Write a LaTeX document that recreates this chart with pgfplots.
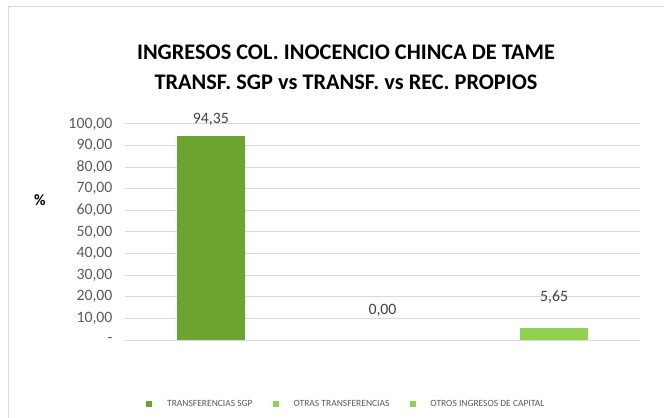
\documentclass[border=0pt]{standalone}
\usepackage{fontspec}
\setmainfont{Carlito}
\usepackage{pgfplots}
\pgfplotsset{compat=1.18}
\definecolor{sgpgreen}{HTML}{6BA42F}
\definecolor{lightgreen}{HTML}{92D050}
\definecolor{gridgray}{HTML}{D9D9D9}
\definecolor{ticktext}{HTML}{595959}
\definecolor{labeltext}{HTML}{404040}
\newcommand{\tickfont}{\fontsize{15.8bp}{18bp}\selectfont}
\begin{document}
\begin{tikzpicture}
\useasboundingbox (0,0) rectangle (664bp,418bp);
\draw[gridgray,line width=1bp] (8.5bp,0) -- (8.5bp,411.5bp) -- (664bp,411.5bp);
\node[anchor=base,font=\bfseries\fontsize{22.3bp}{26bp}\selectfont,text=black]
 at (346bp,358bp) {INGRESOS COL. INOCENCIO CHINCA DE TAME};
\node[anchor=base,font=\bfseries\fontsize{22.3bp}{26bp}\selectfont,text=black]
 at (346bp,328bp) {TRANSF. SGP vs TRANSF. vs REC. PROPIOS};
\node[font=\bfseries\tickfont] at (40bp,218bp) {\%};
\begin{axis}[
 at={(125bp,78bp)},anchor=south west,
 scale only axis,width=515bp,height=216bp,
 xmin=-0.5,xmax=2.5,ymin=0,ymax=100,
 ybar,bar width=68bp,bar shift=0pt,
 xtick=\empty,
 ytick={0,10,...,100},
 yticklabels={-,{10,00},{20,00},{30,00},{40,00},{50,00},{60,00},{70,00},{80,00},{90,00},{100,00}},
 yticklabel style={font=\tickfont,text=ticktext,xshift=-9bp},
 major tick length=0pt,
 axis line style={draw=none},
 ymajorgrids,major grid style={draw=gridgray,line width=1bp},
 nodes near coords,
 nodes near coords style={font=\tickfont,text=labeltext,anchor=base,yshift=26bp},
 point meta=explicit symbolic,
 legend columns=3,
 legend style={draw=none,fill=none,at={(0.035,-0.296)},anchor=west,
  font=\fontsize{9.5bp}{11bp}\selectfont,text=ticktext,
  /tikz/every odd column/.append style={column sep=13bp},
  /tikz/every even column/.append style={column sep=18bp}},
 legend image code/.code={\fill[#1,draw=none] (0bp,-3bp) rectangle (6bp,3bp);},
]
\addplot[fill=sgpgreen,draw=none,nodes near coords style={yshift=-13bp}] coordinates {(0,94.35) [94,35]};
\addplot[fill=lightgreen,draw=lightgreen!50,line width=0.6bp] coordinates {(1,0.00) [0,00]};
\addplot[fill=lightgreen,draw=none] coordinates {(2,5.65) [5,65]};
\legend{TRANSFERENCIAS SGP,OTRAS TRANSFERENCIAS,OTROS INGRESOS DE CAPITAL}
\end{axis}
\end{tikzpicture}
\end{document}
